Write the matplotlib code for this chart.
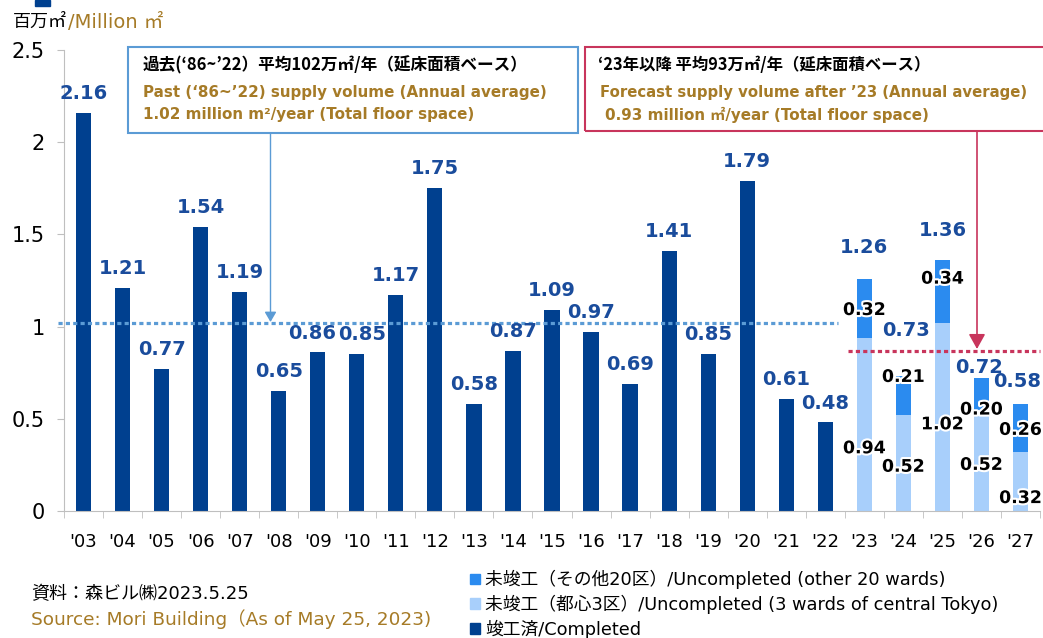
import matplotlib
matplotlib.use('Agg')
import matplotlib.pyplot as plt
import matplotlib.patheffects as pe
from matplotlib.patches import Rectangle, FancyArrowPatch
import numpy as np

plt.rcParams['font.family'] = ['DejaVu Sans', 'Noto Sans CJK JP']

# ---------------- data ----------------
years = ["'03", "'04", "'05", "'06", "'07", "'08", "'09", "'10", "'11", "'12", "'13",
         "'14", "'15", "'16", "'17", "'18", "'19", "'20", "'21", "'22", "'23", "'24",
         "'25", "'26", "'27"]
completed = [2.16, 1.21, 0.77, 1.54, 1.19, 0.65, 0.86, 0.85, 1.17, 1.75, 0.58,
             0.87, 1.09, 0.97, 0.69, 1.41, 0.85, 1.79, 0.61, 0.48]
central3 = [0.94, 0.52, 1.02, 0.52, 0.32]   # 未竣工（都心3区）
other20 = [0.32, 0.21, 0.34, 0.20, 0.26]    # 未竣工（その他20区）
past_avg = 1.02
future_avg_line = 0.87

# label layout (y centre of text, data units)
total_lab_y = [1.43, 0.98, 1.52, 0.78, 0.70]
total_lab_dx = [0.0, 0.08, 0.0, -0.05, -0.08]
other_lab_y = [1.09, 0.727, 1.26, 0.55, 0.44]
central_lab_y = [0.34, 0.24, 0.47, 0.25, 0.07]
comp_lab_dx = {6: -0.15, 7: 0.13}

C_DARK = '#00408F'
C_LIGHT = '#A8CFFB'
C_MID = '#2B8BEF'
C_LAB = '#1A4C9C'
C_GOLD = '#A67B27'
C_BLUE = '#5B9BD5'
C_RED = '#C8355C'
JP = ['Noto Sans CJK JP', 'DejaVu Sans']

W, H = 1043, 638
fig = plt.figure(figsize=(W / 100, H / 100), dpi=100)


def fx(px):
    return px / W


def fy(py):
    return 1 - py / H


ax = fig.add_axes([fx(64), fy(511), fx(1040) - fx(64), fy(50) - fy(511)])

n_c = len(completed)
xc = np.arange(n_c)
xf = np.arange(n_c, n_c + len(central3))
bw = 0.39

ax.bar(xc, completed, width=bw, color=C_DARK, zorder=2)
ax.bar(xf, central3, width=bw, color=C_LIGHT, zorder=2)
ax.bar(xf, other20, width=bw, bottom=central3, color=C_MID, zorder=2)

for i, v in enumerate(completed):
    ax.text(i + comp_lab_dx.get(i, 0), v + 0.105, '%.2f' % v, ha='center', va='center',
            fontsize=14, fontweight='bold', color=C_LAB, zorder=4)

glow = [pe.withStroke(linewidth=3, foreground='white')]
for k, x in enumerate(xf):
    tot = central3[k] + other20[k]
    ax.text(x + total_lab_dx[k], total_lab_y[k], '%.2f' % tot, ha='center', va='center',
            fontsize=14, fontweight='bold', color=C_LAB, zorder=4)
    ax.text(x, other_lab_y[k], '%.2f' % other20[k], ha='center', va='center',
            fontsize=12.5, fontweight='bold', color='black', zorder=5, path_effects=glow)
    ax.text(x, central_lab_y[k], '%.2f' % central3[k], ha='center', va='center',
            fontsize=12.5, fontweight='bold', color='black', zorder=5, path_effects=glow)

# average lines
ax.plot([-0.65, 19.32], [past_avg, past_avg], color=C_BLUE, lw=2.3,
        dashes=(1.3, 1.0), zorder=3, clip_on=False)
ax.plot([19.57, 24.5], [future_avg_line, future_avg_line], color=C_RED, lw=2.3,
        dashes=(1.3, 1.0), zorder=3, clip_on=False)

ax.set_xlim(-0.5, len(years) - 0.5)
ax.set_ylim(0, 2.5)
ax.set_yticks([0, 0.5, 1, 1.5, 2, 2.5])
ax.set_yticklabels(['0', '0.5', '1', '1.5', '2', '2.5'])
ax.set_xticks(np.arange(len(years)))
ax.set_xticklabels(years)
ax.set_xticks(np.arange(len(years) + 1) - 0.5, minor=True)
ax.tick_params(axis='x', which='major', length=0, pad=16, labelsize=13)
ax.tick_params(axis='x', which='minor', length=5, color='#BFBFBF', direction='out')
ax.tick_params(axis='y', length=5, color='#BFBFBF', pad=9, labelsize=15)
for s in ['top', 'right']:
    ax.spines[s].set_visible(False)
for s in ['left', 'bottom']:
    ax.spines[s].set_color('#BFBFBF')

# unit label (two colours, second part placed after the first)
t1 = fig.text(fx(13), fy(22), '百万㎡', fontsize=13, family=JP, va='center', ha='left')
fig.canvas.draw()
bb = t1.get_window_extent(renderer=fig.canvas.get_renderer())
fig.text(bb.x1 / W + fx(1), fy(22), '/Million ㎡', fontsize=14, va='center', ha='left',
         color=C_GOLD)

# partially visible title marker
fig.patches.append(Rectangle((fx(35), fy(6)), fx(15), fy(0) - fy(6),
                             transform=fig.transFigure, color=C_DARK))

# annotation boxes
fig.patches.append(Rectangle((fx(128), fy(133)), fx(578) - fx(128), fy(47) - fy(133),
                             transform=fig.transFigure, fill=False, ec=C_BLUE, lw=1.5,
                             zorder=5))
fig.patches.append(Rectangle((fx(585), fy(131)), fx(1050) - fx(585), fy(47) - fy(131),
                             transform=fig.transFigure, fill=False, ec=C_RED, lw=1.5,
                             zorder=5))

fig.text(fx(143), fy(65), "過去(‘86~’22）平均102万㎡/年（延床面積ベース）", family=JP,
         fontsize=12, fontweight='bold', va='center')
fig.text(fx(143), fy(93), "Past (‘86~’22) supply volume (Annual average)",
         fontsize=10.9, fontweight='bold', color=C_GOLD, va='center')
fig.text(fx(143), fy(115), "1.02 million m²/year (Total floor space)",
         fontsize=10.9, fontweight='bold', color=C_GOLD, va='center')

fig.text(fx(598), fy(65), "‘23年以降 平均93万㎡/年（延床面積ベース）", family=JP,
         fontsize=11.8, fontweight='bold', va='center')
fig.text(fx(600), fy(93), "Forecast supply volume after ’23 (Annual average)",
         fontsize=10.7, fontweight='bold', color=C_GOLD, va='center')
fig.text(fx(605), fy(115), "0.93 million ㎡/year (Total floor space)",
         fontsize=10.9, fontweight='bold', color=C_GOLD, va='center')

# arrows
fig.add_artist(FancyArrowPatch(
    (fx(270.5), fy(133)), (fx(270.5), fy(322)), transform=fig.transFigure,
    arrowstyle='-|>,head_length=6,head_width=3.5', color=C_BLUE, lw=1.0, shrinkA=0, shrinkB=0))
fig.add_artist(FancyArrowPatch(
    (fx(977), fy(131)), (fx(977), fy(349)), transform=fig.transFigure,
    arrowstyle='-|>,head_length=9,head_width=5', color=C_RED, lw=1.2, shrinkA=0, shrinkB=0))

# source
fig.text(fx(31), fy(594), '資料：森ビル㈱2023.5.25', fontsize=13, va='center')
fig.text(fx(31), fy(619), 'Source: Mori Building（As of May 25, 2023)',
         fontsize=13.3, va='center', color=C_GOLD)

# legend
handles = [Rectangle((0, 0), 1, 1, color=C_MID), Rectangle((0, 0), 1, 1, color=C_LIGHT),
           Rectangle((0, 0), 1, 1, color=C_DARK)]
labels = ['未竣工（その他20区）/Uncompleted (other 20 wards)',
          '未竣工（都心3区）/Uncompleted (3 wards of central Tokyo)',
          '竣工済/Completed']
fig.legend(handles, labels, loc='upper left', bbox_to_anchor=(fx(470), fy(570)),
           frameon=False, prop={'size': 12.8}, handlelength=0.55,
           handleheight=0.55, handletextpad=0.3, labelspacing=0.32, borderpad=0,
           borderaxespad=0)

fig.savefig('out.png', dpi=100)
